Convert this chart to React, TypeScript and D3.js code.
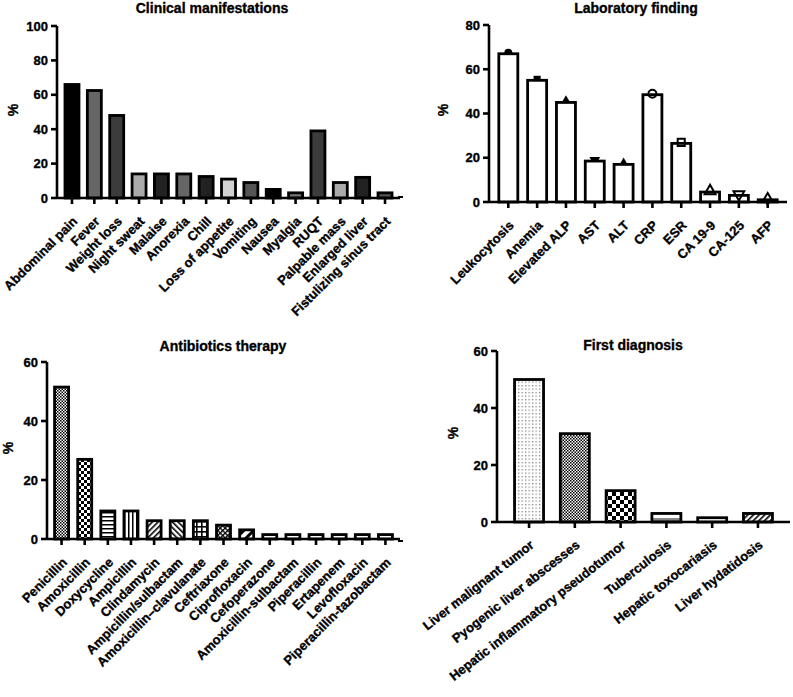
import React from 'react';
import * as d3 from 'd3';

const W = 793;
const H = 697;
const FONT = '"Liberation Sans", Arial, sans-serif';

// Clinical manifestations
const clinicalLabels = ['Abdominal pain', 'Fever', 'Weight loss', 'Night sweat', 'Malaise', 'Anorexia', 'Chill',
  'Loss of appetite', 'Vomiting', 'Nausea', 'Myalgia', 'RUQT', 'Palpable mass', 'Enlarged liver', 'Fistulizing sinus tract'];
const clinicalValues = [66, 62.5, 48, 14, 14, 14, 12.5, 11, 9, 5, 3, 39, 9, 12, 3];
const clinicalFills = ['#000', '#666', '#3c3c3c', '#aaa', '#222', '#666', '#222', '#d2d2d2', '#555', '#000',
  '#777', '#3c3c3c', '#aaa', '#222', '#555'];

// Laboratory finding
const labLabels = ['Leukocytosis', 'Anemia', 'Elevated ALP', 'AST', 'ALT', 'CRP', 'ESR', 'CA 19-9', 'CA-125', 'AFP'];
const labValues = [67, 55, 45, 18.5, 17, 48.5, 26.5, 4.5, 3, 1];
const labMarkers = ['circle', 'square', 'triangle', 'triangleDown', 'diamond',
  'circleOpen', 'squareOpen', 'triangleOpen', 'triangleDownOpen', 'diamondOpen'];

// Antibiotics therapy
const abxLabels = ['Penicillin', 'Amoxicillin', 'Doxycycline', 'Ampicillin', 'Clindamycin', 'Ampicillin/sulbactam',
  'Amoxicillin–clavulanate', 'Ceftriaxone', 'Ciprofloxacin', 'Cefoperazone', 'Amoxicillin-sulbactam',
  'Piperacillin', 'Ertapenem', 'Levofloxacin', 'Piperacillin-tazobactam'];
const abxValues = [51.5, 27, 9.5, 9.5, 6.2, 6.2, 6.2, 4.7, 3.1, 1.5, 1.5, 1.5, 1.5, 1.5, 1.5];
const abxFills = ['url(#fine)', 'url(#checkSmall)', 'url(#hlines)', 'url(#vlines)', 'url(#diagUp)', 'url(#diagDown)',
  'url(#grid)', 'url(#crossDiag)', 'url(#diagWide)', '#fff', '#fff', '#fff', '#fff', '#fff', '#fff'];

// First diagnosis
const dxLabels = ['Liver malignant tumor', 'Pyogenic liver abscesses', 'Hepatic inflammatory pseudotumor',
  'Tuberculosis', 'Hepatic toxocariasis', 'Liver hydatidosis'];
const dxValues = [50, 31, 11, 3, 1.5, 3];
const dxFills = ['url(#dotsSparse)', 'url(#fine)', 'url(#checkBig)', 'url(#halfGray)', '#fff', 'url(#diagUp)'];

const symbolFor = (name: string) => {
  const base = name.replace('Open', '');
  const type = base.startsWith('circle') ? d3.symbolCircle
    : base.startsWith('square') ? d3.symbolSquare
    : base.startsWith('diamond') ? d3.symbolDiamond
    : d3.symbolTriangle;
  return d3.symbol().type(type).size(base === 'diamond' ? 40 : 50)();
};

type PanelProps = {
  title: string; titleX: number; titleY: number;
  labels: string[]; values: number[]; fills: string[];
  x0: number; x1: number; yTop: number; yBottom: number; yMax: number;
  pad: number; bw: number; yLabelX: number; yLabelY: number;
  markers?: string[]; angle?: number;
};

// bold text, slightly thickened to match the heavy print of the original
const heavy = { fontWeight: 'bold' as const, stroke: '#000', strokeWidth: 0.35 };

function Panel(p: PanelProps) {
  const x = d3.scalePoint<string>().domain(p.labels).range([p.x0, p.x1]).padding(p.pad);
  const y = d3.scaleLinear().domain([0, p.yMax]).range([p.yBottom, p.yTop]);
  const ticks = y.ticks(p.yMax / 20);
  const y0 = y(0);
  const angle = p.angle ?? 45;
  return (
    <g>
      <text x={p.titleX} y={p.titleY} textAnchor="middle" fontSize={14} {...heavy}>{p.title}</text>
      <text transform={`translate(${p.yLabelX},${p.yLabelY}) rotate(-90)`} textAnchor="middle"
        fontSize={14} dy="0.35em" {...heavy}>%</text>

      {p.markers && p.labels.map((l, i) => !p.markers![i].includes('Open') && (
        <path key={'mb' + i} d={symbolFor(p.markers![i])}
          transform={`translate(${x(l)},${y(p.values[i]) - 1}) ${p.markers![i].includes('Down') ? 'rotate(180)' : ''}`}
          fill="#000" />
      ))}

      {p.labels.map((l, i) => (
        <rect key={l} x={x(l)! - p.bw / 2} y={y(p.values[i])} width={p.bw}
          height={y0 - y(p.values[i])} fill={p.fills[i]} stroke="#000" strokeWidth={2.8} />
      ))}

      {p.markers && p.labels.map((l, i) => p.markers![i].includes('Open') && (
        <path key={'mo' + i} d={symbolFor(p.markers![i])}
          transform={`translate(${x(l)},${y(p.values[i]) - 1}) ${p.markers![i].includes('Down') ? 'rotate(180)' : ''}`}
          fill="none" stroke="#000" strokeWidth={2} />
      ))}

      <line x1={p.x0} x2={p.x1} y1={y0} y2={y0} stroke="#000" strokeWidth={2.6} />
      <line x1={p.x0} x2={p.x0} y1={p.yTop} y2={y0} stroke="#000" strokeWidth={2.6} />
      {ticks.map(t => (
        <g key={t}>
          <line x1={p.x0 - 6} x2={p.x0} y1={y(t)} y2={y(t)} stroke="#000" strokeWidth={2.6} />
          <text x={p.x0 - 9} y={y(t)} dy="0.35em" textAnchor="end" fontSize={13} {...heavy}>{t}</text>
        </g>
      ))}
      {p.labels.map(l => (
        <g key={'t' + l}>
          <line x1={x(l)} x2={x(l)} y1={y0} y2={y0 + 6} stroke="#000" strokeWidth={2.6} />
          <text transform={`translate(${x(l)! + 3},${y0 + 21}) rotate(${-angle})`} textAnchor="end" dy="0.35em"
            fontSize={13} {...heavy}>{l}</text>
        </g>
      ))}
    </g>
  );
}

export default function App() {
  return (
    <svg width={W} height={H} style={{ position: 'absolute', left: 0, top: 0, background: '#fff' }}
      fontFamily={FONT}>
      <defs>
        <pattern id="fine" width="3" height="3" patternUnits="userSpaceOnUse">
          <rect width="3" height="3" fill="#fff" />
          <rect width="1.5" height="1.5" fill="#000" />
          <rect x="1.5" y="1.5" width="1.5" height="1.5" fill="#000" />
        </pattern>
        <pattern id="checkSmall" width="6" height="6" patternUnits="userSpaceOnUse">
          <rect width="6" height="6" fill="#fff" />
          <rect width="3" height="3" fill="#000" />
          <rect x="3" y="3" width="3" height="3" fill="#000" />
        </pattern>
        <pattern id="checkBig" width="8" height="8" patternUnits="userSpaceOnUse">
          <rect width="8" height="8" fill="#fff" />
          <rect width="4" height="4" fill="#000" />
          <rect x="4" y="4" width="4" height="4" fill="#000" />
        </pattern>
        <pattern id="hlines" width="4" height="4" patternUnits="userSpaceOnUse">
          <rect width="4" height="4" fill="#fff" />
          <rect width="4" height="1.5" fill="#000" />
        </pattern>
        <pattern id="vlines" width="4" height="4" patternUnits="userSpaceOnUse">
          <rect width="4" height="4" fill="#fff" />
          <rect width="1.5" height="4" fill="#000" />
        </pattern>
        <pattern id="diagUp" width="4" height="4" patternUnits="userSpaceOnUse" patternTransform="rotate(45)">
          <rect width="4" height="4" fill="#fff" />
          <rect width="1.6" height="4" fill="#000" />
        </pattern>
        <pattern id="diagDown" width="4" height="4" patternUnits="userSpaceOnUse" patternTransform="rotate(-45)">
          <rect width="4" height="4" fill="#fff" />
          <rect width="1.6" height="4" fill="#000" />
        </pattern>
        <pattern id="diagWide" width="7" height="7" patternUnits="userSpaceOnUse" patternTransform="rotate(45)">
          <rect width="7" height="7" fill="#fff" />
          <rect width="3" height="7" fill="#000" />
        </pattern>
        <pattern id="grid" width="5" height="5" patternUnits="userSpaceOnUse" x="1" y="1">
          <rect width="5" height="5" fill="#fff" />
          <rect width="1.6" height="5" fill="#000" />
          <rect width="5" height="1.6" fill="#000" />
        </pattern>
        <pattern id="crossDiag" width="3.5" height="3.5" patternUnits="userSpaceOnUse" patternTransform="rotate(45)">
          <rect width="3.5" height="3.5" fill="#fff" />
          <rect width="1.3" height="3.5" fill="#000" />
          <rect width="3.5" height="1.3" fill="#000" />
        </pattern>
        <pattern id="dotsSparse" width="3.5" height="3.5" patternUnits="userSpaceOnUse">
          <rect width="3.5" height="3.5" fill="#fff" />
          <rect width="1.3" height="1.3" fill="#888" />
        </pattern>
        <linearGradient id="halfGray" x1="0" y1="0" x2="0" y2="1">
          <stop offset="0" stopColor="#fff" />
          <stop offset="0.5" stopColor="#fff" />
          <stop offset="0.5" stopColor="#888" />
          <stop offset="1" stopColor="#888" />
        </linearGradient>
      </defs>

      <Panel title="Clinical manifestations" titleX={212} titleY={13}
        labels={clinicalLabels} values={clinicalValues} fills={clinicalFills}
        x0={57} x1={400} yTop={26} yBottom={198} yMax={100} pad={0.67} bw={14} yLabelX={13} yLabelY={110} />

      <Panel title="Laboratory finding" titleX={636} titleY={13}
        labels={labLabels} values={labValues} fills={labLabels.map(() => '#fff')} markers={labMarkers}
        x0={489} x1={787} yTop={25} yBottom={202} yMax={80} pad={0.67} bw={19} yLabelX={443} yLabelY={110} />

      <Panel title="Antibiotics therapy" titleX={223} titleY={351}
        labels={abxLabels} values={abxValues} fills={abxFills}
        x0={47} x1={400} yTop={362} yBottom={539} yMax={60} pad={0.63} bw={14} yLabelX={8} yLabelY={448} />

      <Panel title="First diagnosis" titleX={633} titleY={350}
        labels={dxLabels} values={dxValues} fills={dxFills} angle={38}
        x0={497} x1={790} yTop={351} yBottom={522} yMax={60} pad={0.7} bw={29} yLabelX={453} yLabelY={433} />

      <line x1={398} x2={403} y1={197} y2={197} stroke="#000" strokeWidth={2} />
      <line x1={398} x2={403} y1={541} y2={541} stroke="#000" strokeWidth={2} />
    </svg>
  );
}
